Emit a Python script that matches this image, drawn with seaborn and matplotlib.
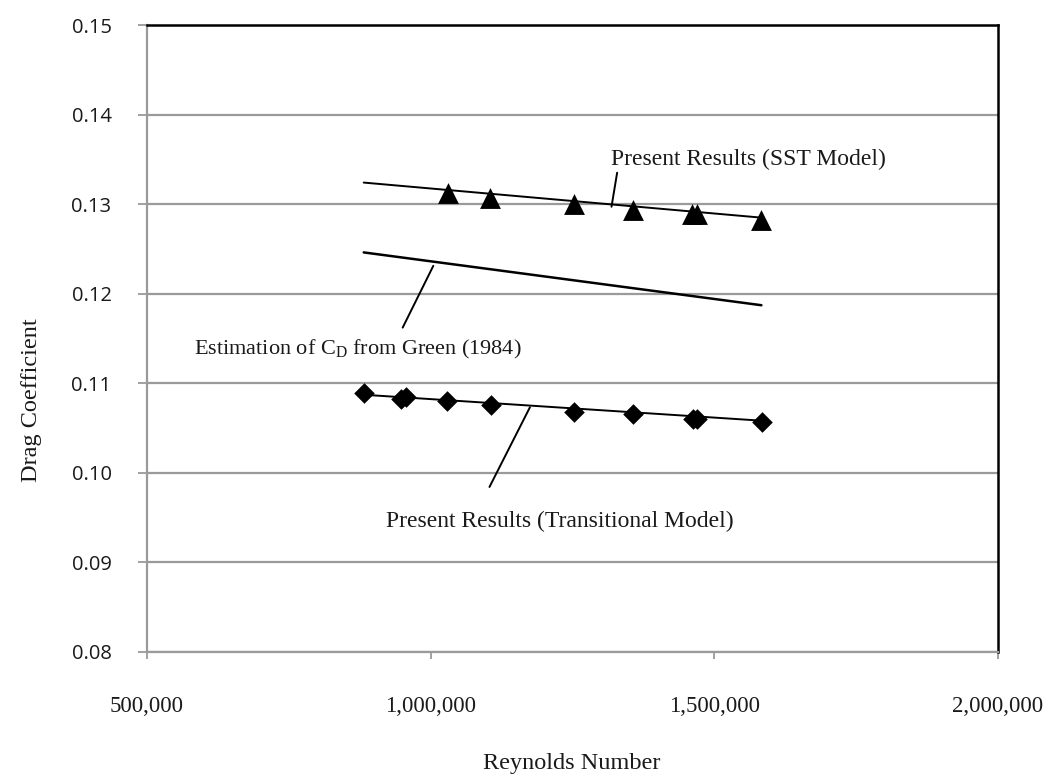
import matplotlib
matplotlib.use("Agg")
import matplotlib.pyplot as plt
import pandas as pd
import seaborn as sns
from matplotlib.ticker import FuncFormatter, FixedLocator

# --- data -----------------------------------------------------------------
# SST turbulence model results
sst_re = [1030000, 1105000, 1252000, 1357000, 1461000, 1470000, 1583000]
sst_cd = [0.1312, 0.1307, 0.1300, 0.1293, 0.1289, 0.1289, 0.1282]
# linear trend through the SST results
sst_fit_re = [882000, 1580000]
sst_fit_cd = [0.1324, 0.1285]

# transitional model results
trans_re = [882000, 948000, 956000, 1028000, 1106000, 1253000, 1357000,
            1462000, 1470000, 1584000]
trans_cd = [0.1089, 0.1082, 0.1084, 0.1080, 0.1075, 0.1068, 0.1065,
            0.1060, 0.1060, 0.1057]
# linear trend through the transitional results
trans_fit_re = [882000, 1584000]
trans_fit_cd = [0.1087, 0.1058]

# empirical estimate after Green (1984)
green_re = [882000, 1583000]
green_cd = [0.1246, 0.1187]

x_ticks = [500000, 1000000, 1500000, 2000000]
y_ticks = [0.08, 0.09, 0.10, 0.11, 0.12, 0.13, 0.14, 0.15]

sst = pd.DataFrame({"Re": sst_re, "Cd": sst_cd})
trans = pd.DataFrame({"Re": trans_re, "Cd": trans_cd})

# --- style ----------------------------------------------------------------
sns.set_theme(style="white")
plt.rcParams["font.family"] = ["Liberation Serif", "DejaVu Serif"]
plt.rcParams["mathtext.fontset"] = "custom"
plt.rcParams["mathtext.rm"] = "Liberation Serif"
plt.rcParams["mathtext.it"] = "Liberation Serif:italic"

GRID = "#9a9a9a"
INK = "#1a1a1a"
SERIF = "Liberation Serif"

fig = plt.figure(figsize=(10.44, 7.77), dpi=100)
ax = fig.add_axes([0.1408, 0.1613, 0.8151, 0.8065])

# trend lines and the Green estimate
sns.lineplot(x=sst_fit_re, y=sst_fit_cd, color="black", lw=1.4,
             estimator=None, ax=ax)
sns.lineplot(x=trans_fit_re, y=trans_fit_cd, color="black", lw=1.4,
             estimator=None, ax=ax)
sns.lineplot(x=green_re, y=green_cd, color="black", lw=1.8,
             estimator=None, ax=ax)

# result markers
sns.scatterplot(data=sst, x="Re", y="Cd", marker="^", s=15 ** 2,
                color="black", linewidth=0, ax=ax, zorder=4)
sns.scatterplot(data=trans, x="Re", y="Cd", marker="D", s=10.5 ** 2,
                color="black", linewidth=0, ax=ax, zorder=4)

# axes, grid, spines
ax.set_xlim(x_ticks[0], x_ticks[-1])
ax.set_ylim(y_ticks[0], y_ticks[-1])
ax.xaxis.set_major_locator(FixedLocator(x_ticks))
ax.yaxis.set_major_locator(FixedLocator(y_ticks))
ax.xaxis.set_major_formatter(FuncFormatter(lambda v, p: f"{v:,.0f}"))
ax.yaxis.set_major_formatter(FuncFormatter(lambda v, p: f"{v:.2f}"))
ax.set_xlabel("")
ax.set_ylabel("")

ax.set_axisbelow(True)
ax.yaxis.grid(True, color=GRID, lw=1.6)
ax.xaxis.grid(False)

for side in ("left", "bottom"):
    ax.spines[side].set_color(GRID)
    ax.spines[side].set_linewidth(1.6)
for side in ("top", "right"):
    ax.spines[side].set_color("black")
    ax.spines[side].set_linewidth(1.8)

ax.tick_params(axis="y", direction="out", length=6.5, width=1.3,
               color=GRID, pad=19, left=True)
ax.tick_params(axis="x", direction="out", length=5, width=1.3,
               color=GRID, pad=27, bottom=True)
for lab in ax.get_yticklabels():
    lab.set_fontfamily("Open Sans")
    lab.set_fontsize(14.5)
    lab.set_color(INK)
for lab in ax.get_xticklabels():
    lab.set_fontfamily(SERIF)
    lab.set_fontsize(16.5)
    lab.set_color(INK)

# axis titles
fig.text(0.030, 1 - 400 / 777, "Drag Coefficient", rotation=90,
         ha="center", va="center", family=SERIF, size=17.5, color=INK)
fig.text(572 / 1044, 1 - 763 / 777, "Reynolds Number",
         ha="center", va="center", family=SERIF, size=17.5, color=INK)

# callout labels with leader lines
txt = dict(ha="left", va="center", family=SERIF, color=INK)
lead = dict(arrowstyle="-", color="black", lw=1.4, shrinkA=0, shrinkB=0)

ax.text(1318000, 0.1350, "Present Results (SST Model)", size=17, **txt)
ax.annotate("", xy=(1318800, 0.1297), xytext=(1328700, 0.1335),
            arrowprops=lead)

ax.text(583000, 0.1138, r"Estimation of C$_{\mathrm{D}}$ from Green (1984)",
        size=16, **txt)
ax.annotate("", xy=(1004700, 0.1231), xytext=(950700, 0.1162),
            arrowprops=lead)

ax.text(922000, 0.0945, "Present Results (Transitional Model)", size=17,
        **txt)
ax.annotate("", xy=(1175000, 0.1073), xytext=(1103700, 0.0984),
            arrowprops=lead)

fig.savefig("out.png", dpi=100)
